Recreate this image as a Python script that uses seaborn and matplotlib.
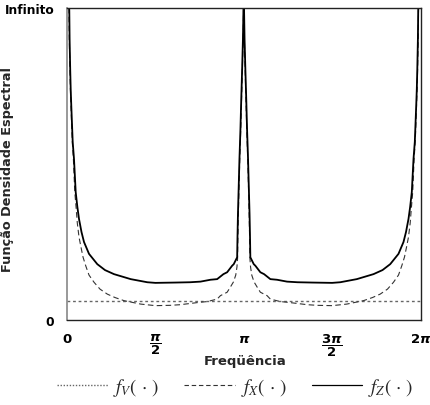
import numpy as np
import pandas as pd
import seaborn as sns
import matplotlib
matplotlib.use("Agg")
import matplotlib.pyplot as plt
from matplotlib.font_manager import FontProperties
from matplotlib.lines import Line2D

# ---------------- data (frequency in multiples of pi, density in % of axis height) -------------
freq_z = [0.0074, 0.0130, 0.0147, 0.0181, 0.0209, 0.0243, 0.0283, 0.0322, 0.0396, 0.0492,
          0.0587, 0.0679, 0.0820, 0.0962, 0.1245, 0.1714, 0.2150, 0.2659, 0.3604, 0.4543,
          0.5, 0.611, 0.696, 0.755, 0.8116, 0.8495, 0.885, 0.906, 0.9344, 0.9434,
          0.9627, 0.9644, 0.9672, 0.9711, 0.9757, 0.9813, 0.9859, 0.9909, 0.9955, 0.9983,
          1.0,
          1.0017, 1.0045, 1.0091, 1.0141, 1.0187, 1.0243, 1.0289, 1.0328, 1.0356, 1.0373,
          1.0566, 1.0656, 1.094, 1.115, 1.1505, 1.1884, 1.245, 1.304, 1.389, 1.5,
          1.5457, 1.6396, 1.7341, 1.785, 1.8286, 1.8755, 1.9038, 1.918, 1.9321, 1.9413,
          1.9508, 1.9604, 1.9678, 1.9717, 1.9757, 1.9791, 1.9819, 1.9853, 1.987, 1.9926]
val_z = [112.5, 99.0, 90.1, 80.4, 74.0, 68.6, 62.8, 57.1, 51.6, 41.0,
         36.2, 32.4, 28.2, 25.0, 21.2, 17.9, 16.0, 14.7, 13.1, 12.1,
         11.9, 12.0, 12.1, 12.3, 12.9, 13.1, 14.7, 15.3, 17.4, 17.9,
         20.1, 26.0, 34.0, 42.0, 51.6, 61.2, 70.8, 80.4, 90.1, 99.7,
         130.0,
         99.7, 90.1, 80.4, 70.8, 61.2, 51.6, 42.0, 34.0, 26.0, 20.1,
         17.9, 17.4, 15.3, 14.7, 13.1, 12.9, 12.3, 12.1, 12.0, 11.9,
         12.1, 13.1, 14.7, 16.0, 17.9, 21.2, 25.0, 28.2, 32.4, 36.2,
         41.0, 51.6, 57.1, 62.8, 68.6, 74.0, 80.4, 90.1, 99.0, 112.5]

freq_x = [0.0062, 0.0113, 0.0130, 0.0164, 0.0192, 0.0226, 0.0260, 0.0300, 0.0362, 0.0441,
          0.0521, 0.0583, 0.0679, 0.0775, 0.0905, 0.1058, 0.1245, 0.1528, 0.1867, 0.2280,
          0.2716, 0.3225, 0.4170, 0.5, 0.583, 0.640, 0.755, 0.793, 0.8495, 0.868,
          0.906, 0.9248, 0.9417, 0.9547, 0.9615, 0.9649, 0.9661, 0.9689, 0.9728, 0.9774,
          0.9830, 0.9876, 0.9921, 0.9966, 0.9989,
          1.0,
          1.0011, 1.0034, 1.0079, 1.0124, 1.0170, 1.0226, 1.0272, 1.0311, 1.0339, 1.0351,
          1.0385, 1.0453, 1.0583, 1.0752, 1.094, 1.132, 1.1505, 1.207, 1.245, 1.360,
          1.417, 1.5, 1.583, 1.6775, 1.7284, 1.772, 1.8133, 1.8472, 1.8755, 1.8942,
          1.9095, 1.9225, 1.9321, 1.9417, 1.9479, 1.9559, 1.9638, 1.9700, 1.9740, 1.9774,
          1.9808, 1.9836, 1.9870, 1.9887, 1.9938]
val_x = [112.5, 99.0, 90.1, 80.4, 74.0, 68.6, 62.8, 57.1, 51.6, 41.0,
         35.6, 31.1, 26.6, 23.8, 20.2, 17.4, 14.4, 12.1, 9.9, 8.3,
         7.2, 6.2, 5.1, 4.6, 4.7, 4.9, 5.7, 5.9, 6.7, 7.8,
         8.9, 10.6, 12.2, 14.4, 17.0, 19.6, 24.4, 32.4, 42.0, 51.6,
         61.2, 70.8, 80.4, 90.1, 99.7,
         130.0,
         99.7, 90.1, 80.4, 70.8, 61.2, 51.6, 42.0, 32.4, 24.4, 19.6,
         17.0, 14.4, 12.2, 10.6, 8.9, 7.8, 6.7, 5.9, 5.7, 4.9,
         4.7, 4.6, 5.1, 6.2, 7.2, 8.3, 9.9, 12.1, 14.4, 17.4,
         20.2, 23.8, 26.6, 31.1, 35.6, 41.0, 51.6, 57.1, 62.8, 68.6,
         74.0, 80.4, 90.1, 99.0, 112.5]

freq_v = [0.0, 2.0]
val_v = [6.2, 6.2]

xtick_pos = [0, 0.5, 1, 1.5, 2]
xtick_labels = [r'$\mathbf{0}$', r'$\dfrac{\boldsymbol{\pi}}{\mathbf{2}}$', r'$\boldsymbol{\pi}$',
                r'$\dfrac{\mathbf{3}\boldsymbol{\pi}}{\mathbf{2}}$', r'$\mathbf{2}\boldsymbol{\pi}$']
ytick_pos = [0, 100]
ytick_labels = ['0', 'Infinito']

legend_labels = [r'$f_V(\,\cdot\,)$', r'$f_X(\,\cdot\,)$', r'$f_Z(\,\cdot\,)$']

# ---------------- plot ----------------
sns.set_style("white")
plt.rcParams['font.family'] = ['DejaVu Sans']
plt.rcParams['mathtext.fontset'] = 'dejavusans'

W, H = 430, 406
fig = plt.figure(figsize=(W / 100, H / 100), dpi=100)
ax = fig.add_axes([67 / W, 1 - 321 / H, (420.5 - 67) / W, (321 - 9) / H])

df_v = pd.DataFrame({'f': freq_v, 'v': val_v})
df_x = pd.DataFrame({'f': freq_x, 'v': val_x})
df_z = pd.DataFrame({'f': freq_z, 'v': val_z})

sns.lineplot(data=df_v, x='f', y='v', ax=ax, sort=False, estimator=None,
             color='#666666', lw=1.0, linestyle=(0, (2, 2)))
sns.lineplot(data=df_x, x='f', y='v', ax=ax, sort=False, estimator=None,
             color='#333333', lw=0.8, linestyle=(0, (5, 3)))
sns.lineplot(data=df_z, x='f', y='v', ax=ax, sort=False, estimator=None,
             color='black', lw=1.3)

ax.set_xlim(0, 2)
ax.set_ylim(0, 100)
ax.set_xlabel('')
ax.set_ylabel('')
ax.set_xticks(xtick_pos)
ax.set_xticklabels(xtick_labels, fontsize=9.5)
ax.set_yticks(ytick_pos)
ax.set_yticklabels(ytick_labels, fontsize=8.8, fontweight='bold')
ax.tick_params(axis='both', direction='out', length=7, width=1, pad=2, colors='black')
ax.tick_params(axis='x', pad=1.5)
for t in ax.get_xticklabels():
    t.set_verticalalignment('top')

for s in ['top', 'bottom', 'right']:
    ax.spines[s].set_color('#222222')
    ax.spines[s].set_linewidth(1.0)
    ax.spines[s].set_visible(True)
ax.spines['left'].set_color('#888888')
ax.spines['left'].set_linewidth(1.2)
ax.grid(False)

fig.text(8 / W, 1 - 170 / H, 'Função Densidade Espectral', rotation=90,
         ha='center', va='center', fontsize=9.3, fontweight='bold')
fig.text(245 / W, 1 - 362 / H, 'Freqüência', ha='center', va='center',
         fontsize=9.5, fontweight='bold')

handles = [Line2D([], [], color='#666666', lw=1.0, linestyle=(0, (1, 1.2))),
           Line2D([], [], color='#333333', lw=0.8, linestyle=(0, (4, 2.5))),
           Line2D([], [], color='black', lw=0.9)]
fig.legend(handles, legend_labels, loc='center', bbox_to_anchor=(235 / W, 1 - 388 / H),
           ncol=3, frameon=False, handlelength=2.7, handletextpad=0.3, columnspacing=1.35,
           prop=FontProperties(size=13.5, math_fontfamily='stix'))

fig.savefig('out.png', dpi=100)
